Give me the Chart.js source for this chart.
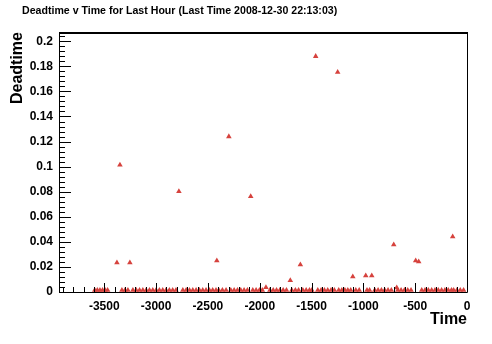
<!DOCTYPE html>
<html>
<head>
<meta charset="utf-8">
<script src="https://cdn.jsdelivr.net/npm/chart.js@4.4.1/dist/chart.umd.min.js"></script>
<style>
  html, body { margin: 0; padding: 0; background: #fff; }
  canvas { display: block; }
</style>
</head>
<body>
<canvas id="chart" width="492" height="344"></canvas>
<script>
// Readings with visible deadtime (seconds before last time, deadtime)
const peakTimes = [-3378, -3349, -3253, -2780, -2414, -2298, -2087, -1940, -1705, -1608,
  -1460, -1248, -1102, -977, -919, -707, -678, -495, -466, -138];
const peakValues = [0.0234, 0.1013, 0.0234, 0.0802, 0.025, 0.124, 0.0762, 0.0037, 0.0093, 0.0218,
  0.188, 0.1754, 0.0122, 0.013, 0.013, 0.0378, 0.0034, 0.025, 0.0242, 0.0442];

// Readings sitting on zero
const baseTimes = [
  -3592, -3567, -3542, -3517, -3492, -3468,
  -3330, -3300, -3272,
  -3224, -3192, -3160, -3128, -3096, -3064, -3032, -3000, -2968, -2936, -2904, -2872, -2840, -2808,
  -2742, -2710, -2678, -2646, -2614, -2582, -2550, -2518, -2486, -2454, -2422,
  -2395, -2360, -2325,
  -2279, -2247, -2215, -2183, -2151, -2119,
  -2067, -2035, -2003, -1975,
  -1902, -1870, -1838, -1806, -1774, -1742,
  -1690, -1656, -1625,
  -1584, -1552, -1520, -1497,
  -1440, -1408, -1376, -1344, -1312, -1280,
  -1238, -1208, -1178, -1150, -1122,
  -1073, -1040,
  -965, -940,
  -890, -858, -826, -794, -762, -730,
  -668, -636, -604, -572, -540,
  -437, -405, -373, -341, -309, -277, -245, -213, -181, -150,
  -129, -97, -65, -33
];
const baseValues = [
  0.0015, 0.0014, 0.0015, 0.0014, 0.0015, 0.0014,
  0.0015, 0.0014, 0.0015,
  0.0014, 0.0015, 0.0014, 0.0015, 0.0014, 0.0015, 0.0014, 0.0015, 0.0014, 0.0015, 0.0014, 0.0015, 0.0014, 0.0015,
  0.0014, 0.0015, 0.0014, 0.0015, 0.0014, 0.0015, 0.0014, 0.0015, 0.0014, 0.0015, 0.0014,
  0.0015, 0.0014, 0.0015,
  0.0014, 0.0015, 0.0014, 0.0015, 0.0014, 0.0015,
  0.0014, 0.0015, 0.0014, 0.0015,
  0.0014, 0.0015, 0.0014, 0.0015, 0.0014, 0.0015,
  0.0014, 0.0015, 0.0014,
  0.0015, 0.0014, 0.0015, 0.0014,
  0.0015, 0.0014, 0.0015, 0.0014, 0.0015, 0.0014,
  0.0015, 0.0014, 0.0015, 0.0014, 0.0015,
  0.0014, 0.0015,
  0.0014, 0.0015,
  0.0014, 0.0015, 0.0014, 0.0015, 0.0014, 0.0015,
  0.0014, 0.0015, 0.0014, 0.0015, 0.0014,
  0.0015, 0.0014, 0.0015, 0.0014, 0.0015, 0.0014, 0.0015, 0.0014, 0.0015, 0.0014,
  0.0015, 0.0014, 0.0015, 0.0014
];

// Axis ranges and labelled ticks
const xTickValues = [-3500, -3000, -2500, -2000, -1500, -1000, -500, 0];
const yTickValues = [0, 0.02, 0.04, 0.06, 0.08, 0.1, 0.12, 0.14, 0.16, 0.18, 0.2];
const xMin = -3937, xMax = 0, xMinor = 100;
const yMin = 0, yMax = 0.2074, yMinor = 0.004;

const titleText = 'Deadtime v Time for Last Hour (Last Time 2008-12-30 22:13:03)';
const markerColor = '#d6423d';
const fontFamily = '"Liberation Sans", Arial, sans-serif';

const points = baseTimes.map((t, i) => ({ x: t, y: baseValues[i] }))
  .concat(peakTimes.map((t, i) => ({ x: t, y: peakValues[i] })));

// ROOT style frame with inward ticks, plus the title
const frame = {
  id: 'frame',
  afterDraw(chart) {
    const { ctx, chartArea: a, scales } = chart;
    const xs = scales.x, ys = scales.y;
    ctx.save();
    ctx.strokeStyle = '#000';
    ctx.lineWidth = 1;
    ctx.beginPath();
    ctx.moveTo(a.left + 0.5, a.bottom + 0.5);
    ctx.lineTo(a.right + 0.5, a.bottom + 0.5);
    ctx.moveTo(a.left + 0.5, a.top);
    ctx.lineTo(a.left + 0.5, a.bottom + 0.5);
    ctx.moveTo(a.right + 0.5, a.top);
    ctx.lineTo(a.right + 0.5, a.bottom + 0.5);
    // x ticks: long on labelled values, short every 100 s
    for (let v = Math.ceil(xMin / xMinor) * xMinor; v <= xMax; v += xMinor) {
      const px = Math.round(xs.getPixelForValue(v)) + 0.5;
      const len = xTickValues.includes(v) ? 9 : 5;
      ctx.moveTo(px, a.bottom);
      ctx.lineTo(px, a.bottom - len);
    }
    // y ticks
    for (let i = 0; i * yMinor <= yMax; i++) {
      const py = Math.round(ys.getPixelForValue(i * yMinor)) + 0.5;
      const len = i % 5 === 0 ? 12 : 6;
      ctx.moveTo(a.left, py);
      ctx.lineTo(a.left + len, py);
    }
    ctx.stroke();
    ctx.lineWidth = 2;
    ctx.beginPath();
    ctx.moveTo(a.left, a.top + 1);
    ctx.lineTo(a.right + 1, a.top + 1);
    ctx.stroke();

    ctx.fillStyle = '#000';
    ctx.font = 'bold 10.6px ' + fontFamily;
    ctx.textBaseline = 'middle';
    ctx.textAlign = 'left';
    ctx.fillText(titleText, 22, 11);
    ctx.restore();
  }
};

new Chart(document.getElementById('chart'), {
  type: 'scatter',
  data: {
    datasets: [{
      data: points,
      pointStyle: 'triangle',
      pointRadius: 3.2,
      pointBorderWidth: 0,
      backgroundColor: markerColor,
      borderColor: markerColor
    }]
  },
  options: {
    responsive: false,
    animation: false,
    devicePixelRatio: 1,
    layout: { padding: { left: 0, right: 25, top: 32, bottom: 0 } },
    plugins: {
      legend: { display: false },
      tooltip: { enabled: false }
    },
    scales: {
      x: {
        type: 'linear',
        min: xMin,
        max: xMax,
        afterFit: s => { s.height = 52; },
        afterBuildTicks: s => { s.ticks = xTickValues.map(v => ({ value: v })); },
        grid: { display: false, drawTicks: false },
        border: { display: false },
        ticks: {
          autoSkip: false,
          maxRotation: 0,
          padding: 7,
          color: '#000',
          font: { family: fontFamily, size: 12, weight: 'bold' },
          callback: v => String(Math.round(v))
        },
        title: {
          display: true,
          text: 'Time',
          align: 'end',
          color: '#000',
          padding: { top: 0, bottom: 15 },
          font: { family: fontFamily, size: 16, weight: 'bold' }
        }
      },
      y: {
        min: yMin,
        max: yMax,
        afterFit: s => { s.width = 59; },
        afterBuildTicks: s => { s.ticks = yTickValues.map(v => ({ value: v })); },
        grid: { display: false, drawTicks: false },
        border: { display: false },
        ticks: {
          autoSkip: false,
          padding: 6,
          color: '#000',
          font: { family: fontFamily, size: 12, weight: 'bold' },
          callback: v => String(+v.toFixed(2))
        },
        title: {
          display: true,
          text: 'Deadtime',
          align: 'end',
          color: '#000',
          padding: { top: 8, bottom: 0 },
          font: { family: fontFamily, size: 16, weight: 'bold' }
        }
      }
    }
  },
  plugins: [frame]
});
</script>
</body>
</html>
